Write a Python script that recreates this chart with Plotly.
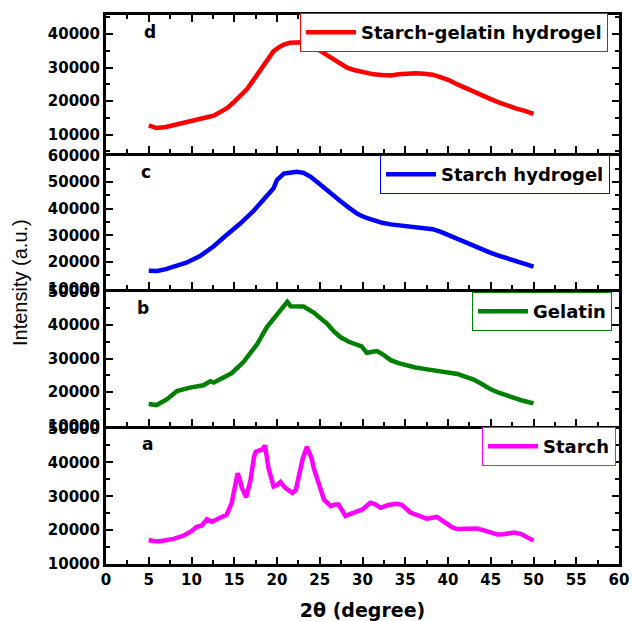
import plotly.graph_objects as go

# ---------------- data ----------------
x_d = [5.0, 5.9, 7.0, 7.9, 9.0, 9.8, 10.8, 11.8, 12.6, 13.4, 14.2, 14.9, 15.7, 16.5, 17.3, 18.1,
       18.8, 19.6, 20.3, 20.8, 21.5, 22.3, 23.0, 23.5, 24.3, 25.1, 25.9, 26.6, 27.4, 28.2, 29.0,
       29.8, 30.6, 31.3, 32.3, 33.3, 34.2, 35.2, 36.2, 37.2, 38.2, 39.1, 40.1, 41.1, 42.0, 43.0,
       44.0, 45.0, 46.0, 47.0, 48.0, 48.9, 50.0]
y_d = [12800, 12000, 12300, 12900, 13500, 14200, 14600, 15200, 15700, 16700, 18000, 19600, 21500,
       23600, 26500, 29500, 32300, 34900, 36200, 36900, 37400, 37600, 37600, 37100, 36200, 34900,
       33600, 32400, 31100, 30000, 29300, 28800, 28300, 28000, 27800, 27700, 28000, 28200, 28300,
       28200, 27900, 27200, 26300, 25000, 23900, 22800, 21700, 20600, 19600, 18600, 17800, 17200,
       16200]

x_c = [5.0, 6.0, 7.0, 7.9, 9.4, 11.0, 12.6, 14.1, 15.7, 17.3, 18.8, 19.6, 20.0, 20.8, 21.5, 22.3,
       23.1, 23.9, 24.7, 25.5, 26.4, 27.4, 28.4, 29.4, 30.3, 31.3, 32.3, 33.3, 34.2, 35.2, 36.2,
       37.2, 38.2, 39.1, 40.1, 41.1, 42.0, 43.0, 44.0, 45.0, 46.0, 47.0, 48.0, 48.9, 50.0]
y_c = [16700, 16600, 17300, 18200, 19700, 22200, 25900, 30100, 34400, 39300, 44700, 47700, 50800,
       53200, 53500, 53900, 53500, 52100, 50000, 47800, 45300, 42900, 40400, 38100, 36700, 35600,
       34700, 34100, 33800, 33500, 33300, 32900, 32300, 31400, 30000, 28500, 27200, 25900, 24600,
       23400, 22300, 21200, 20100, 19100, 18200]

x_b = [5.0, 5.9, 7.1, 8.3, 9.8, 11.4, 12.2, 12.6, 13.4, 14.7, 16.1, 17.7, 18.8, 19.6, 20.4, 21.2,
       21.6, 22.3, 23.1, 24.3, 25.1, 25.9, 26.6, 27.4, 28.4, 29.4, 29.9, 30.5, 31.1, 31.7, 32.5,
       33.3, 34.2, 35.2, 36.2, 37.2, 38.2, 39.1, 40.1, 41.1, 42.0, 43.0, 44.0, 45.0, 46.0, 47.0,
       48.0, 48.9, 50.0]
y_b = [16400, 16100, 17800, 20300, 21300, 22000, 23200, 22800, 23900, 25600, 29000, 34400, 39300,
       42000, 44200, 46900, 45600, 45700, 45500, 43700, 42000, 40300, 38200, 36400, 35000, 33900,
       33600, 31700, 32000, 32200, 31000, 29500, 28600, 27800, 27300, 26900, 26600, 26300, 25900,
       25400, 24600, 23700, 22300, 20800, 19700, 18800, 18000, 17300, 16600]

x_a = [5.0, 5.5, 6.3, 7.0, 7.9, 9.1, 10.0, 10.6, 11.2, 11.8, 12.4, 13.4, 14.1, 14.7, 15.1, 15.4,
       15.7, 15.9, 16.4, 16.9, 17.3, 17.5, 18.0, 18.3, 18.6, 19.0, 19.6, 20.0, 20.4, 21.0, 21.8,
       22.2, 22.5, 23.0, 23.5, 24.0, 24.3, 25.0, 25.5, 26.3, 26.8, 27.2, 28.0, 28.6, 29.4, 30.0,
       30.9, 31.5, 32.1, 33.0, 34.0, 34.6, 35.6, 36.5, 37.5, 38.7, 39.5, 40.5, 41.1, 42.0, 43.4,
       44.5, 45.8, 46.5, 47.7, 48.5, 49.2, 50.0]
y_a = [17100, 16800, 16700, 16900, 17400, 18400, 19700, 21000, 21300, 23200, 22500, 23700, 24500,
       28000, 33500, 36800, 34500, 32400, 29700, 34800, 41500, 43100, 43600, 43800, 45000, 38300,
       32900, 33300, 34200, 32400, 31000, 31800, 35300, 41000, 44600, 41500, 38300, 33000, 29000,
       27100, 27600, 27600, 24200, 24800, 25700, 26100, 28100, 27600, 26600, 27400, 27800, 27500,
       25200, 24400, 23400, 23900, 22600, 20800, 20300, 20300, 20500, 19700, 18700, 18800, 19300,
       18900, 18000, 16900]

names = ["Starch-gelatin hydrogel", "Starch hydrogel", "Gelatin", "Starch"]
colors = ["#FF0000", "#0000FF", "#008000", "#FF00FF"]
panel_letters = ["d", "c", "b", "a"]
x_range = [0, 60]
y_ranges = [[4700, 45700], [10000, 60000], [10000, 50000], [10000, 50000]]

# ---------------- geometry (pixels) ----------------
W, H = 632, 621
L, R, T, B = 106, 13, 15, 57
PH = H - T - B  # plot height in px
PW = W - L - R
# panel boundaries in px from the top: d | c | b | a
edges_px = [15, 154, 290, 427, 564]
GAP = 3  # axis lines are drawn outside the domain; a 3px gap lets neighbours coincide


def py2paper(p):
    return (H - B - p) / PH


domains = []
for i in range(4):
    top = edges_px[i] + (GAP / 2 if i > 0 else 0)
    bot = edges_px[i + 1] - (GAP / 2 if i < 3 else 0)
    domains.append([py2paper(bot), py2paper(top)])

series_x = [x_d, x_c, x_b, x_a]
series_y = [y_d, y_c, y_b, y_a]

# ---------------- figure ----------------
fig = go.Figure()
legend_px = [(608, 13), (610, 155), (612, 292), (616, 427)]

for i in range(4):
    ax = "" if i == 3 else str(4 - i)  # bottom panel uses x/y
    lg = "legend" if i == 0 else "legend%d" % (i + 1)
    fig.add_trace(go.Scatter(
        x=series_x[i], y=series_y[i], mode="lines", name=names[i],
        line=dict(color=colors[i], width=4.5),
        xaxis="x" + ax, yaxis="y" + ax, legend=lg, showlegend=True))

tickfont = dict(family="DejaVu Sans", size=15, color="black", weight="bold")
layout = dict(
    width=W, height=H,
    margin=dict(l=L, r=R, t=T, b=B, autoexpand=False),
    paper_bgcolor="white", plot_bgcolor="white",
    font=dict(family="DejaVu Sans", size=15, color="black"),
    showlegend=True,
)

for i in range(4):
    ax = "" if i == 3 else str(4 - i)
    xkey = "xaxis" + ax
    ykey = "yaxis" + ax
    layout[xkey] = dict(
        range=x_range, tick0=0, dtick=5, ticks="inside", ticklen=7, tickwidth=2,
        tickcolor="black", showline=True, linewidth=3, linecolor="black",
        mirror="allticks" if i == 0 else True, showgrid=False, zeroline=False,
        showticklabels=(i == 3), tickfont=tickfont,
        minor=dict(dtick=2.5, ticks="inside", ticklen=4, tickwidth=2, tickcolor="black"),
        anchor="y" + ax, fixedrange=True, automargin=False,
    )
    if i != 3:
        layout[xkey]["matches"] = "x"
    else:
        layout[xkey]["title"] = dict(text="2θ (degree)", standoff=18,
                                     font=dict(family="DejaVu Sans", size=19,
                                               color="black", weight="bold"))
    layout[ykey] = dict(
        domain=domains[i], range=y_ranges[i], tick0=0, dtick=10000, tickformat="d",
        ticks="inside", ticklen=7, tickwidth=2, tickcolor="black",
        showline=True, linewidth=3, linecolor="black", mirror="allticks",
        showgrid=False, zeroline=False, tickfont=tickfont,
        minor=dict(dtick=5000, ticks="inside", ticklen=4, tickwidth=2, tickcolor="black"),
        anchor="x" + ax, fixedrange=True, automargin=False,
    )
    lg = "legend" if i == 0 else "legend%d" % (i + 1)
    lx, ly = legend_px[i]
    layout[lg] = dict(
        x=(lx - L) / PW, y=py2paper(ly), xanchor="right", yanchor="top",
        bordercolor=colors[i], borderwidth=1, bgcolor="white",
        font=dict(family="DejaVu Sans", size=18, color="black", weight="bold"),
        itemwidth=50,
    )

fig.update_layout(**layout)

# panel letters
letter_pos = [(149.5, 32), (146, 172), (143, 308), (147.5, 444)]
for lt, (px, py) in zip(panel_letters, letter_pos):
    fig.add_annotation(
        text=lt, xref="paper", yref="paper",
        x=(px - L) / PW, y=py2paper(py), xanchor="center", yanchor="middle",
        showarrow=False, font=dict(family="DejaVu Sans", size=17, color="black", weight="bold"))

# y-axis title (shared by all panels)
fig.add_annotation(
    text="Intensity (a.u.)", xref="paper", yref="paper",
    x=(20 - L) / PW, y=py2paper(283), xanchor="center", yanchor="middle",
    textangle=-90, showarrow=False,
    font=dict(family="Liberation Sans", size=20, color="black"))

fig.write_html("out.html")
